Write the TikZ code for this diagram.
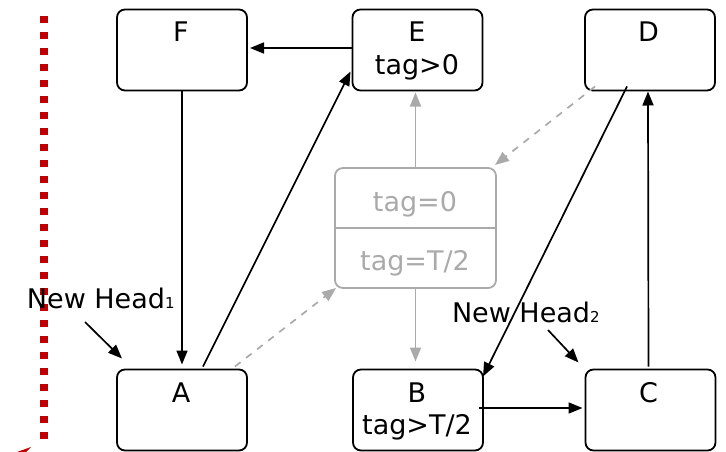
\documentclass[tikz,border=0pt]{standalone}
\usepackage{fontspec}
\setmainfont{DejaVu Sans}
\usetikzlibrary{arrows.meta,calc}
\definecolor{dred}{RGB}{192,0,0}
\definecolor{lgray}{RGB}{170,170,170}
\begin{document}
\begin{tikzpicture}[x=1pt,y=-1pt,
 box/.style={draw=black, line width=1.8pt, rounded corners=8pt, minimum width=130pt, minimum height=81pt, inner sep=0pt, outer sep=0pt},
 gbox/.style={draw=lgray, line width=1.8pt, rounded corners=8pt, minimum width=161pt, minimum height=120pt, inner sep=0pt, outer sep=0pt},
 txt/.style={font=\fontsize{27}{32}\selectfont, inner sep=0pt, outer sep=0pt, anchor=base},
 gtxt/.style={txt, text=lgray},
 conn/.style={line width=1.7pt, -{Triangle[length=14pt,width=11pt]}},
 gconn/.style={conn, draw=lgray},
 dconn/.style={gconn, dash pattern=on 7pt off 7pt},
]
\useasboundingbox (0,0) rectangle (726,452);
% red dotted divider
\draw[dred, line width=7.5pt, dash pattern=on 7pt off 9pt] (44,16) -- (44,439);
\fill[dred] (17,452) -- (31,447) -- (26,452) -- cycle;
% boxes
\node[box] (F) at (182,50) {};
\node[box] (E) at (417.5,50) {};
\node[box] (D) at (650,50) {};
\node[box] (A) at (182,410) {};
\node[box] (B) at (418,410) {};
\node[box] (C) at (650.5,410) {};
\node[gbox] (G) at (415.5,228) {};
\draw[lgray, line width=1.8pt] (G.west) -- (G.east);
% texts
\node[txt] (Ft) at (181,42) {F};
\node[txt] (Et) at (417,42) {E};
\node[txt] (Et2) at (417,75) {tag>0};
\node[txt] (Dt) at (648.5,42) {D};
\node[txt] (At) at (181,402) {A};
\node[txt] (Bt) at (417,402) {B};
\node[txt] (Bt2) at (417,434) {tag>T/2};
\node[txt] (Ct) at (648.5,402) {C};
\node[gtxt] (Gt1) at (415,211) {tag=0};
\node[gtxt] (Gt2) at (415,270) {tag=T/2};
\node[txt, anchor=base west] (nh1) at (27,308) {New Head{\fontsize{15}{15}\selectfont 1}};
\node[txt, anchor=base west] (nh2) at (452,322) {New Head{\fontsize{15}{15}\selectfont 2}};
\coordinate (s1) at (85,322);
\coordinate (s2) at (548,330);
% connectors
\draw[conn] ($(E.west)+(0,-2)$) -- ($(F.east)+(3,-2)$);
\draw[conn] (F.south) -- ($(A.north)+(0,-5)$);
\draw[conn] ($(A.north west)+(86,-3)$) -- ($(E.south west)+(-2,-19)$);
\draw[dconn] ($(A.north east)+(-12,-3)$) -- ($(G.south west)+(1,0)$);
\draw[gconn] (G.north) -- ($(G.north |- E.south)+(0,2)$);
\draw[gconn] (G.south) -- ($(G.south |- B.north)+(0,-8)$);
\draw[dconn] ($(D.south west)+(10,-4)$) -- ($(G.north east)+(-1,-3)$);
\draw[conn] ($(D.south west)+(42,-4)$) -- ($(B.north east)+(0,7)$);
\draw[conn] ($(B.east)+(-4,-2)$) -- ($(C.west)+(-3,-2)$);
\draw[conn] ($(C.north)+(-2,-3)$) -- ($(D.south)+(-2,1)$);
\draw[conn] (s1) -- ($(A.north west)+(5,-11)$);
\draw[conn] (s2) -- ($(C.north west)+(-7,-7)$);
\end{tikzpicture}
\end{document}
